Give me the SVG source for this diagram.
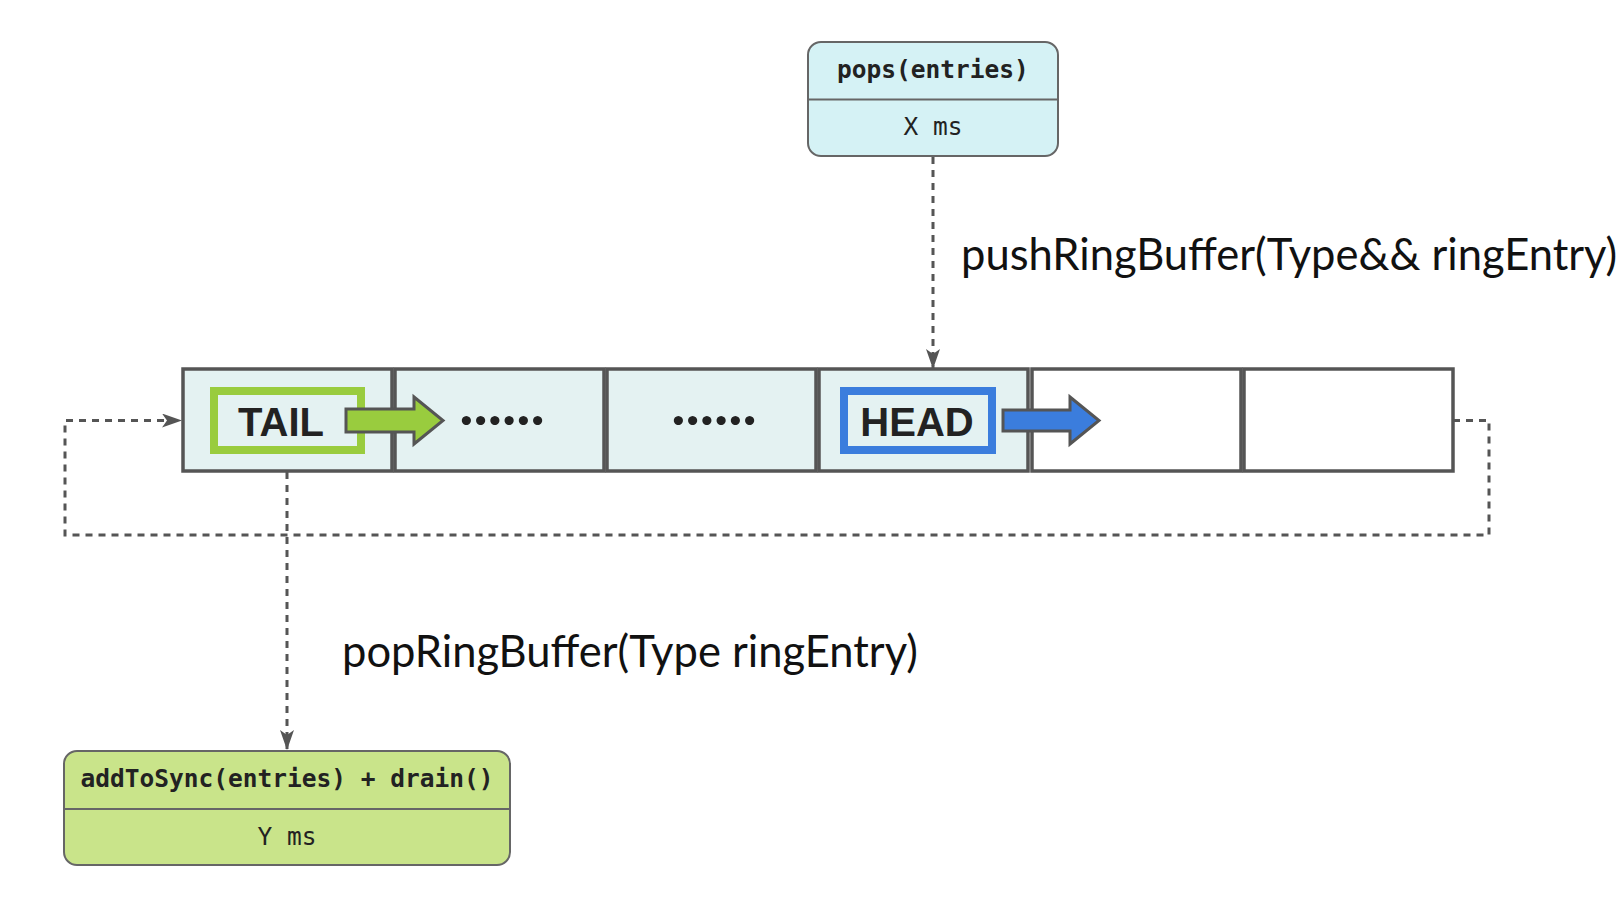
<svg xmlns="http://www.w3.org/2000/svg" width="1620" height="904" viewBox="0 0 1620 904">
<style>
.cell{stroke:#555;stroke-width:3.5}
.shaded{fill:#e4f2f2}
.empty{fill:#ffffff}
.conn{fill:none;stroke:#555;stroke-width:3;stroke-dasharray:7 6}
.mono{font-family:"DejaVu Sans Mono","Liberation Mono",monospace;font-size:24.5px;fill:#222;text-anchor:middle}
.bold{font-weight:bold}
.big{font-family:"Liberation Sans",Arial,sans-serif;font-weight:bold;font-size:40px;fill:#222;text-anchor:middle}
.dots{font-family:Lato,"Noto Sans",sans-serif;font-weight:bold;font-size:60px;fill:#222;text-anchor:middle}
.label{font-family:Lato,"Noto Sans",sans-serif;font-size:43.5px;fill:#111}
.box{stroke:#666;stroke-width:2}
</style>
<defs>
<marker id="arr" viewBox="0 0 20 14" refX="19" refY="7" markerWidth="20" markerHeight="14" markerUnits="userSpaceOnUse" orient="auto">
<path d="M0,0 L20,7 L0,14 L5,7 z" fill="#555"/>
</marker>
</defs>
<rect width="1620" height="904" fill="#ffffff"/>
<g id="connectors">
<path class="conn" d="M933,157 L933,368" marker-end="url(#arr)"/>
<path class="conn" d="M287,472 L287,749" marker-end="url(#arr)"/>
<path class="conn" d="M1453,420.5 L1489,420.5 L1489,535 L65,535 L65,420.5 L181,420.5" marker-end="url(#arr)"/>
</g>
<g id="pops">
<rect class="box" x="808" y="42" width="250" height="114" rx="13" fill="#d5f2f5"/>
<line class="box" x1="808" y1="99.5" x2="1058" y2="99.5"/>
<text class="mono bold" x="933" y="77.5">pops(entries)</text>
<text class="mono" x="933" y="135">X ms</text>
</g>
<g id="sync">
<rect class="box" x="64" y="751" width="446" height="114" rx="13" fill="#c9e48a"/>
<line class="box" x1="64" y1="809" x2="510" y2="809"/>
<text class="mono bold" x="287" y="786.5">addToSync(entries) + drain()</text>
<text class="mono" x="287" y="845">Y ms</text>
</g>
<g id="cell1"><rect class="cell shaded" x="183" y="369" width="209" height="102"/></g>
<g id="cell2"><rect class="cell shaded" x="395" y="369" width="209" height="102"/>
<text class="dots" x="502" y="425">......</text></g>
<g id="cell3"><rect class="cell shaded" x="607" y="369" width="209" height="102"/>
<text class="dots" x="714" y="425">......</text></g>
<g id="cell4"><rect class="cell shaded" x="819" y="369" width="209" height="102"/></g>
<g id="cell5"><rect class="cell empty" x="1032" y="369" width="209" height="102"/></g>
<g id="cell6"><rect class="cell empty" x="1244" y="369" width="209" height="102"/></g>
<g id="tail">
<rect x="214" y="391" width="147" height="59" fill="#e4f2f2" stroke="#99cc3e" stroke-width="8"/>
<text class="big" x="281" y="436">TAIL</text>
<polygon points="346,409 414,409 414,397 443,420.5 414,444 414,432 346,432" fill="#99cc3e" stroke="#555" stroke-width="3"/>
</g>
<g id="head">
<rect x="844" y="391" width="148" height="59" fill="#e4f2f2" stroke="#3b7ddd" stroke-width="8"/>
<text class="big" x="917" y="436">HEAD</text>
<polygon points="1003,410 1070,410 1070,397 1099,420.5 1070,444 1070,431 1003,431" fill="#3b7ddd" stroke="#555" stroke-width="3"/>
</g>
<g id="labels">
<text class="label" x="961" y="270">pushRingBuffer(Type&amp;&amp; ringEntry)</text>
<text class="label" x="342" y="667">popRingBuffer(Type ringEntry)</text>
</g>
</svg>
